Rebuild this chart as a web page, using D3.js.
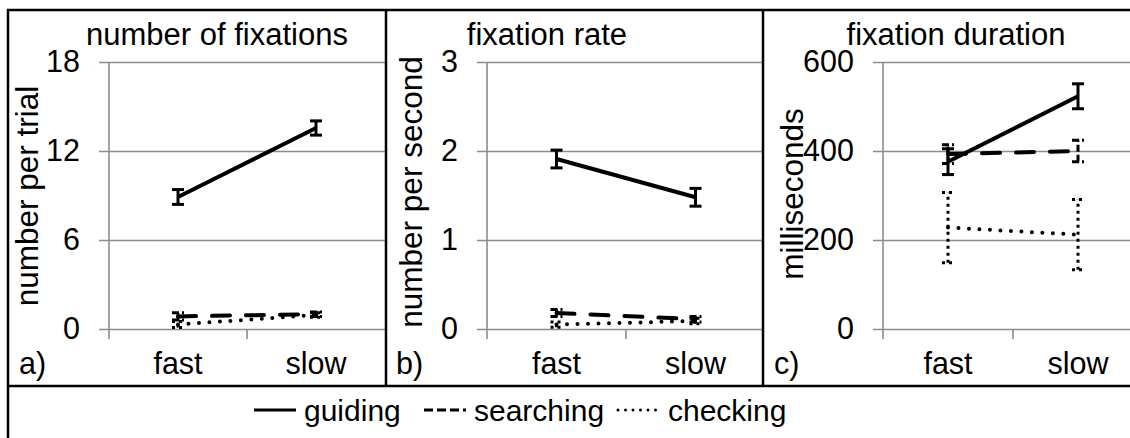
<!DOCTYPE html>
<html>
<head>
<meta charset="utf-8">
<script src="https://cdn.jsdelivr.net/npm/d3@7"></script>
<style>
  body { margin: 0; background: #fff; }
  text { font-family: "Liberation Sans", Arial, sans-serif; fill: #000; }
</style>
</head>
<body>
<script>
// data
const conditions = ["fast", "slow"];
const seriesNames = ["guiding", "searching", "checking"];

// a) number of fixations (per trial), rows: guiding, searching, checking
const countMean = [[8.9, 13.55], [0.85, 1.0], [0.3, 0.95]];
const countErr = [[0.5, 0.48], [0.25, 0.15], [0.2, 0.15]];
const countTicks = [0, 6, 12, 18];

// b) fixation rate (per second)
const rateMean = [[1.91, 1.48], [0.18, 0.11], [0.05, 0.09]];
const rateErr = [[0.1, 0.1], [0.04, 0.03], [0.03, 0.03]];
const rateTicks = [0, 1, 2, 3];

// c) fixation duration (ms)
const durMean = [[376, 523], [393, 400], [228, 212]];
const durErr = [[29, 28], [21, 24], [79, 79]];
const durTicks = [0, 200, 400, 600];

const W = 1130, H = 438;
const yTop = 62, yBot = 329;
const fs = 30.5;

const svg = d3.select("body").append("svg")
	.attr("width", W)
	.attr("height", H);

// line styles per series
const lineDash = [null, "18,16", "0,10.5"];
const barDash = [null, "7,3", "3,4"];

const panels = [
	{mean: countMean, err: countErr, ticks: countTicks, title: "number of fixations", ylab: "number per trial",
		tag: "a)", x0: 109, x1: 385, right: 386, titleX: 217, ylabX: 27, ylabY: 196, tagX: 19},
	{mean: rateMean, err: rateErr, ticks: rateTicks, title: "fixation rate", ylab: "number per second",
		tag: "b)", x0: 487, x1: 765, right: 763, titleX: 547, ylabX: 411, ylabY: 192, tagX: 396},
	{mean: durMean, err: durErr, ticks: durTicks, title: "fixation duration", ylab: "milliseconds",
		tag: "c)", x0: 883, x1: 1143, right: 1132, titleX: 956, ylabX: 792, ylabY: 194, tagX: 774}
];

panels.forEach(p => {
	const g = svg.append("g");

	const x = d3.scaleBand()
		.domain(conditions)
		.range([p.x0, p.x1]);
	const cx = d => x(d) + x.bandwidth() / 2;

	const y = d3.scaleLinear()
		.domain([0, d3.max(p.ticks)])
		.range([yBot, yTop]);

	// gridlines + tick labels
	const yAxis = d3.axisLeft(y)
		.tickValues(p.ticks)
		.tickFormat(d3.format("~g"))
		.tickSize(-(p.right - (p.x0 - 10)))
		.tickPadding(19);
	g.append("g")
		.attr("transform", `translate(${p.x0 - 10},0)`)
		.call(yAxis)
		.call(a => a.select(".domain").remove())
		.call(a => a.selectAll(".tick line").attr("stroke", "#8c8c8c").attr("stroke-width", 1.6))
		.call(a => a.selectAll(".tick text").attr("font-size", fs).attr("font-family", null).attr("fill", "#000"));

	// vertical axis line
	g.append("line")
		.attr("x1", p.x0).attr("x2", p.x0)
		.attr("y1", yTop).attr("y2", yBot + 10)
		.attr("stroke", "#8c8c8c").attr("stroke-width", 1.6);

	// category boundary ticks
	g.selectAll(".ctick")
		.data(conditions.slice(1))
		.join("line")
		.attr("x1", d => x(d)).attr("x2", d => x(d))
		.attr("y1", yBot).attr("y2", yBot + 10)
		.attr("stroke", "#8c8c8c").attr("stroke-width", 1.6);

	// category labels
	g.append("g")
		.attr("transform", `translate(0,${yBot})`)
		.call(d3.axisBottom(x).tickSize(0).tickPadding(23))
		.call(a => a.select(".domain").remove())
		.call(a => a.selectAll("text").attr("font-size", fs).attr("font-family", null).attr("fill", "#000"));

	// title, y label, tag
	g.append("text")
		.attr("x", p.titleX).attr("y", 45)
		.attr("text-anchor", "middle")
		.attr("font-size", 31)
		.text(p.title);

	g.append("text")
		.attr("transform", `translate(${p.ylabX},${p.ylabY}) rotate(-90)`)
		.attr("text-anchor", "middle")
		.attr("dy", "0.35em")
		.attr("font-size", 31.5)
		.text(p.ylab);

	g.append("text")
		.attr("x", p.tagX).attr("y", 374)
		.attr("font-size", fs)
		.text(p.tag);

	// series lines, drawn back to front (checking under guiding)
	const line = d3.line()
		.x((d, i) => cx(conditions[i]))
		.y(d => y(d));

	const order = [2, 1, 0];
	order.forEach(s => {
		const vals = p.mean[s];
		g.append("path")
			.datum(vals)
			.attr("fill", "none")
			.attr("stroke", "#000")
			.attr("stroke-width", 4)
			.attr("stroke-linecap", s === 0 ? "butt" : "round")
			.attr("stroke-dasharray", lineDash[s])
			.attr("d", line);

		// error bars
		const eb = g.append("g")
			.attr("stroke", "#000")
			.attr("stroke-width", 3)
			.attr("stroke-dasharray", barDash[s])
			.attr("fill", "none");
		vals.forEach((v, i) => {
			const xc = cx(conditions[i]);
			const lo = y(v - p.err[s][i]), hi = y(v + p.err[s][i]);
			eb.append("line").attr("x1", xc).attr("x2", xc).attr("y1", lo).attr("y2", hi);
			eb.append("line").attr("x1", xc - 6).attr("x2", xc + 6).attr("y1", lo).attr("y2", lo);
			eb.append("line").attr("x1", xc - 6).attr("x2", xc + 6).attr("y1", hi).attr("y2", hi);
		});
	});
});

// frame
const frame = svg.append("g")
	.attr("stroke", "#000")
	.attr("stroke-width", 2.5)
	.attr("fill", "none");
frame.append("rect").attr("x", 8).attr("y", 10).attr("width", 1140).attr("height", 440);
frame.append("line").attr("x1", 8).attr("x2", 1140).attr("y1", 386).attr("y2", 386);
[386, 763].forEach(xv => frame.append("line").attr("x1", xv).attr("x2", xv).attr("y1", 10).attr("y2", 386));

// legend
const legendX = [254, 424, 618];
const legend = svg.append("g")
	.selectAll("g")
	.data(seriesNames)
	.join("g")
	.attr("transform", (d, i) => `translate(${legendX[i]},410)`);

legend.append("line")
	.attr("x1", 0).attr("x2", 42)
	.attr("stroke", "#000")
	.attr("stroke-width", 3)
	.attr("stroke-linecap", (d, i) => i === 2 ? "round" : "butt")
	.attr("stroke-dasharray", (d, i) => [null, "9,4", "0,7.5"][i]);

legend.append("text")
	.attr("x", 50)
	.attr("dy", "0.35em")
	.attr("font-size", 30)
	.text(d => d);
</script>
</body>
</html>
